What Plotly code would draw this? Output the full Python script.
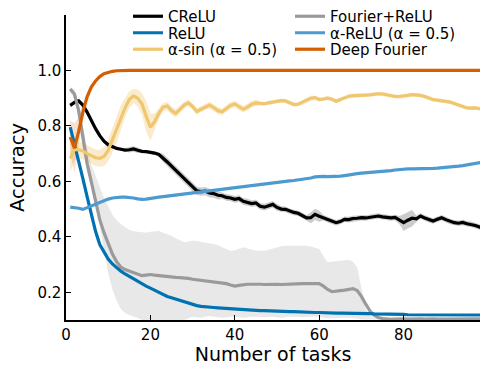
import plotly.graph_objects as go

# ---- data -------------------------------------------------------------
tasks = list(range(1, 100))

creLU = [0.874, 0.885, 0.890, 0.875, 0.850, 0.818, 0.790, 0.765, 0.745, 0.732,
         0.724, 0.719, 0.716, 0.713, 0.714, 0.717, 0.712, 0.708, 0.707, 0.705,
         0.702, 0.697, 0.685, 0.670, 0.655, 0.640, 0.625, 0.610, 0.595, 0.578,
         0.566, 0.563, 0.565, 0.558, 0.556, 0.550, 0.548, 0.542, 0.540, 0.535,
         0.538, 0.528, 0.525, 0.520, 0.522, 0.510, 0.507, 0.512, 0.517, 0.506,
         0.500, 0.499, 0.492, 0.488, 0.485, 0.478, 0.468, 0.469, 0.481, 0.474,
         0.469, 0.462, 0.456, 0.451, 0.455, 0.463, 0.462, 0.466, 0.467, 0.469,
         0.468, 0.471, 0.473, 0.475, 0.472, 0.470, 0.468, 0.470, 0.460, 0.451,
         0.460, 0.467, 0.465, 0.475, 0.468, 0.462, 0.457, 0.463, 0.469, 0.462,
         0.455, 0.451, 0.449, 0.452, 0.447, 0.445, 0.441, 0.435, 0.430]
creLU_std = [0.008, 0.008, 0.008, 0.008, 0.008, 0.008, 0.008, 0.008, 0.008, 0.008,
             0.006, 0.006, 0.006, 0.006, 0.010, 0.010, 0.010, 0.006, 0.006, 0.006,
             0.006, 0.006, 0.015, 0.015, 0.015, 0.015, 0.015, 0.015, 0.015, 0.015,
             0.015, 0.015, 0.015, 0.015, 0.015, 0.015, 0.012, 0.012, 0.012, 0.012,
             0.012, 0.012, 0.012, 0.012, 0.012, 0.012, 0.012, 0.012, 0.012, 0.012,
             0.010, 0.010, 0.010, 0.010, 0.010, 0.010, 0.010, 0.020, 0.020, 0.020,
             0.010, 0.010, 0.010, 0.010, 0.010, 0.010, 0.010, 0.010, 0.010, 0.010,
             0.010, 0.010, 0.010, 0.010, 0.010, 0.010, 0.010, 0.010, 0.015, 0.030,
             0.030, 0.030, 0.012, 0.010, 0.010, 0.010, 0.010, 0.010, 0.010, 0.010,
             0.010, 0.010, 0.010, 0.010, 0.010, 0.010, 0.010, 0.010, 0.010]

relu = [0.796, 0.737, 0.680, 0.610, 0.545, 0.485, 0.420, 0.372, 0.343, 0.320,
        0.302, 0.288, 0.276, 0.266, 0.257, 0.247, 0.239, 0.231, 0.222, 0.215,
        0.207, 0.198, 0.190, 0.185, 0.180, 0.175, 0.170, 0.165, 0.160, 0.156,
        0.152, 0.149, 0.147, 0.146, 0.145, 0.144, 0.143, 0.141, 0.139, 0.138,
        0.137, 0.136, 0.135, 0.135, 0.134, 0.134, 0.134, 0.133, 0.133, 0.133,
        0.132, 0.131, 0.130, 0.130, 0.129, 0.128, 0.128, 0.128, 0.127, 0.127,
        0.126, 0.126, 0.126, 0.125, 0.125, 0.125, 0.124, 0.124, 0.124, 0.124,
        0.123, 0.123, 0.122, 0.122, 0.121, 0.121, 0.120, 0.120, 0.120, 0.120,
        0.119, 0.119, 0.119, 0.119, 0.119, 0.119, 0.118, 0.118, 0.118, 0.118,
        0.118, 0.118, 0.118, 0.118, 0.118, 0.118, 0.118, 0.118, 0.118]

fourier_relu = [0.933, 0.915, 0.855, 0.760, 0.665, 0.598, 0.525, 0.462, 0.415, 0.375,
                0.338, 0.310, 0.291, 0.282, 0.276, 0.270, 0.264, 0.260, 0.262, 0.264,
                0.262, 0.260, 0.258, 0.257, 0.256, 0.254, 0.253, 0.252, 0.250, 0.247,
                0.245, 0.243, 0.241, 0.240, 0.238, 0.236, 0.233, 0.231, 0.226, 0.222,
                0.225, 0.228, 0.229, 0.229, 0.230, 0.229, 0.228, 0.229, 0.230, 0.229,
                0.228, 0.229, 0.230, 0.231, 0.231, 0.231, 0.231, 0.231, 0.232, 0.231,
                0.222, 0.210, 0.202, 0.203, 0.206, 0.208, 0.212, 0.213, 0.206, 0.185,
                0.158, 0.133, 0.117, 0.109, 0.105, 0.103, 0.102, 0.103, 0.104, 0.104,
                0.103, 0.104, 0.105, 0.104, 0.103, 0.104, 0.104, 0.103, 0.103, 0.104,
                0.104, 0.103, 0.104, 0.104, 0.103, 0.103, 0.104, 0.104, 0.104]
fourier_relu_hi = [0.940, 0.930, 0.880, 0.800, 0.720, 0.660, 0.620, 0.580, 0.540, 0.510,
                   0.480, 0.460, 0.445, 0.435, 0.425, 0.420, 0.418, 0.416, 0.415, 0.418,
                   0.420, 0.421, 0.415, 0.410, 0.404, 0.395, 0.387, 0.380, 0.383, 0.386,
                   0.385, 0.383, 0.380, 0.377, 0.374, 0.370, 0.362, 0.356, 0.350, 0.352,
                   0.358, 0.362, 0.358, 0.354, 0.350, 0.350, 0.350, 0.353, 0.358, 0.362,
                   0.366, 0.368, 0.368, 0.367, 0.368, 0.368, 0.368, 0.365, 0.360, 0.356,
                   0.330, 0.308, 0.310, 0.312, 0.314, 0.316, 0.317, 0.310, 0.290, 0.215,
                   0.140, 0.115, 0.108, 0.106, 0.106, 0.106, 0.106, 0.106, 0.106, 0.106,
                   0.106, 0.106, 0.106, 0.106, 0.106, 0.106, 0.106, 0.106, 0.106, 0.106,
                   0.106, 0.106, 0.106, 0.106, 0.106, 0.106, 0.106, 0.106, 0.106]
fourier_relu_lo = [0.920, 0.900, 0.830, 0.720, 0.630, 0.580, 0.520, 0.440, 0.350, 0.270,
                   0.210, 0.170, 0.140, 0.125, 0.118, 0.112, 0.108, 0.100, 0.098, 0.098,
                   0.098, 0.098, 0.098, 0.098, 0.098, 0.098, 0.098, 0.100, 0.106, 0.112,
                   0.110, 0.108, 0.112, 0.114, 0.112, 0.110, 0.108, 0.110, 0.112, 0.113,
                   0.110, 0.108, 0.110, 0.112, 0.113, 0.112, 0.110, 0.111, 0.112, 0.110,
                   0.108, 0.110, 0.112, 0.113, 0.112, 0.110, 0.110, 0.112, 0.113, 0.112,
                   0.108, 0.106, 0.105, 0.106, 0.107, 0.108, 0.108, 0.107, 0.105, 0.102,
                   0.100, 0.100, 0.100, 0.100, 0.100, 0.100, 0.100, 0.100, 0.100, 0.100,
                   0.100, 0.100, 0.100, 0.100, 0.100, 0.100, 0.100, 0.100, 0.100, 0.100,
                   0.100, 0.100, 0.100, 0.100, 0.100, 0.100, 0.100, 0.100, 0.100]

alpha_relu = [0.507, 0.506, 0.503, 0.499, 0.505, 0.513, 0.520, 0.526, 0.531, 0.536,
              0.540, 0.542, 0.543, 0.543, 0.542, 0.540, 0.537, 0.535, 0.536, 0.539,
              0.541, 0.543, 0.545, 0.547, 0.549, 0.551, 0.552, 0.554, 0.556, 0.558,
              0.560, 0.562, 0.564, 0.566, 0.568, 0.570, 0.572, 0.574, 0.576, 0.578,
              0.580, 0.582, 0.583, 0.585, 0.587, 0.589, 0.592, 0.594, 0.596, 0.598,
              0.600, 0.601, 0.602, 0.603, 0.605, 0.607, 0.609, 0.612, 0.616, 0.618,
              0.618, 0.617, 0.617, 0.618, 0.619, 0.621, 0.624, 0.626, 0.628, 0.630,
              0.631, 0.632, 0.634, 0.635, 0.636, 0.637, 0.639, 0.641, 0.643, 0.644,
              0.645, 0.645, 0.645, 0.645, 0.645, 0.646, 0.647, 0.648, 0.649, 0.650,
              0.651, 0.653, 0.655, 0.657, 0.660, 0.662, 0.665, 0.668, 0.670]

alpha_sin = [0.683, 0.715, 0.714, 0.710, 0.700, 0.692, 0.685, 0.683, 0.690, 0.712,
             0.750, 0.790, 0.830, 0.865, 0.895, 0.908, 0.900, 0.880, 0.835, 0.795,
             0.815, 0.845, 0.868, 0.872, 0.855, 0.845, 0.860, 0.875, 0.883, 0.870,
             0.852, 0.860, 0.870, 0.875, 0.866, 0.855, 0.851, 0.862, 0.874, 0.879,
             0.868, 0.860, 0.868, 0.878, 0.883, 0.881, 0.880, 0.883, 0.886, 0.889,
             0.891, 0.890, 0.884, 0.877, 0.878, 0.885, 0.892, 0.900, 0.902, 0.895,
             0.897, 0.900, 0.896, 0.889, 0.895, 0.902, 0.907, 0.909, 0.909, 0.910,
             0.911, 0.912, 0.914, 0.916, 0.915, 0.912, 0.908, 0.906, 0.906, 0.907,
             0.910, 0.913, 0.912, 0.910, 0.906, 0.900, 0.895, 0.893, 0.891, 0.889,
             0.886, 0.881, 0.875, 0.869, 0.865, 0.864, 0.865, 0.862, 0.860]
alpha_sin_std = [0.050, 0.040, 0.030, 0.030, 0.030, 0.030, 0.030, 0.030, 0.035, 0.040,
                 0.045, 0.050, 0.045, 0.035, 0.030, 0.025, 0.030, 0.040, 0.055, 0.050,
                 0.030, 0.020, 0.015, 0.015, 0.015, 0.015, 0.012, 0.012, 0.012, 0.012,
                 0.012, 0.012, 0.012, 0.012, 0.012, 0.012, 0.012, 0.012, 0.012, 0.012,
                 0.012, 0.012, 0.012, 0.012, 0.012, 0.007, 0.007, 0.007, 0.007, 0.007,
                 0.007, 0.007, 0.007, 0.007, 0.007, 0.010, 0.010, 0.010, 0.007, 0.007,
                 0.007, 0.007, 0.007, 0.007, 0.007, 0.007, 0.007, 0.007, 0.007, 0.007,
                 0.007, 0.007, 0.007, 0.007, 0.007, 0.007, 0.007, 0.007, 0.007, 0.007,
                 0.007, 0.007, 0.007, 0.007, 0.007, 0.007, 0.007, 0.007, 0.007, 0.007,
                 0.007, 0.007, 0.007, 0.007, 0.007, 0.007, 0.007, 0.007, 0.007]

deep_fourier = [0.760, 0.720, 0.780, 0.850, 0.905, 0.940, 0.962, 0.978, 0.988, 0.994,
                0.997, 0.999] + [1.0] * 87
deep_fourier_std = [0.060, 0.090, 0.050, 0.030, 0.015, 0.010, 0.006, 0.004, 0.003, 0.002,
                    0.001, 0.001] + [0.0] * 87

x_ticks = [0, 20, 40, 60, 80]
y_ticks = [0.2, 0.4, 0.6, 0.8, 1.0]

# ---- styling ----------------------------------------------------------
FONT = "DejaVu Sans"
C_BLACK = "#000000"
C_RELU = "#0072B2"
C_FR = "#9A9A9A"
C_AR = "#4C9BD0"
C_SIN = "#F0C66E"
C_DF = "#D55E00"

PLOT_TOP, PLOT_BOTTOM = 12, 320
PLOT_LEFT, PLOT_W = 66, 414

fig = go.Figure()


def band(x, lo, hi, color):
    fig.add_trace(go.Scatter(
        x=list(x) + list(x)[::-1], y=list(hi) + list(lo)[::-1],
        fill="toself", fillcolor=color, line=dict(width=0),
        mode="lines", showlegend=False, hoverinfo="skip"))


def line(x, y, name, color, legend):
    fig.add_trace(go.Scatter(
        x=x, y=y, name=name, mode="lines",
        line=dict(color=color, width=3.2), legend=legend))


# shaded spread around each curve
band(tasks, fourier_relu_lo, fourier_relu_hi, "rgba(150,150,150,0.22)")
band(tasks, [m - s for m, s in zip(creLU, creLU_std)],
     [m + s for m, s in zip(creLU, creLU_std)], "rgba(0,0,0,0.2)")
band(tasks, [m - s for m, s in zip(alpha_sin, alpha_sin_std)],
     [m + s for m, s in zip(alpha_sin, alpha_sin_std)], "rgba(240,198,110,0.35)")
band(tasks, [m - s for m, s in zip(deep_fourier, deep_fourier_std)],
     [m + s for m, s in zip(deep_fourier, deep_fourier_std)], "rgba(213,94,0,0.18)")

# mean curves; each legend entry gets its own box (2 columns x 3 rows)
line(tasks, creLU, "CReLU", C_BLACK, "legend")
line(tasks, fourier_relu, "Fourier+ReLU", C_FR, "legend2")
line(tasks, relu, "ReLU", C_RELU, "legend3")
line(tasks, alpha_relu, "α-ReLU (α = 0.5)", C_AR, "legend4")
line(tasks, alpha_sin, "α-sin (α = 0.5)", C_SIN, "legend5")
line(tasks, deep_fourier, "Deep Fourier", C_DF, "legend6")


def legend_cell(px, py):
    return dict(
        orientation="v",
        x=(px - PLOT_LEFT) / PLOT_W, xanchor="left",
        y=(PLOT_BOTTOM - py) / (PLOT_BOTTOM - PLOT_TOP), yanchor="middle",
        bgcolor="rgba(0,0,0,0)", borderwidth=0,
        font=dict(family=FONT, size=15, color="black"),
        itemwidth=30)


axis_common = dict(
    showline=True, linecolor="black", linewidth=1.5,
    ticks="inside", ticklen=5, tickcolor="black", tickwidth=1,
    showgrid=False, zeroline=False, mirror=False,
    tickfont=dict(family=FONT, size=15, color="black"))

COL1, COL2 = 128, 290
ROWS = [13.5, 30.2, 46.8]

fig.update_layout(
    width=480, height=365,
    margin=dict(l=PLOT_LEFT, r=480 - PLOT_LEFT - PLOT_W, t=PLOT_TOP, b=365 - PLOT_BOTTOM),
    paper_bgcolor="white", plot_bgcolor="white",
    font=dict(family=FONT, color="black"),
    xaxis=dict(range=[0, 98.1], tickvals=x_ticks,
               title=dict(text="Number of tasks", font=dict(family=FONT, size=19), standoff=5),
               **axis_common),
    yaxis=dict(range=[0.1, 1.2], tickvals=y_ticks, tickformat=".1f",
               title=dict(text="Accuracy", font=dict(family=FONT, size=19.5), standoff=8),
               **axis_common),
    legend=legend_cell(COL1, ROWS[0]),
    legend2=legend_cell(COL2, ROWS[0]),
    legend3=legend_cell(COL1, ROWS[1]),
    legend4=legend_cell(COL2, ROWS[1]),
    legend5=legend_cell(COL1, ROWS[2]),
    legend6=legend_cell(COL2, ROWS[2]),
)

fig.write_html("out.html")
